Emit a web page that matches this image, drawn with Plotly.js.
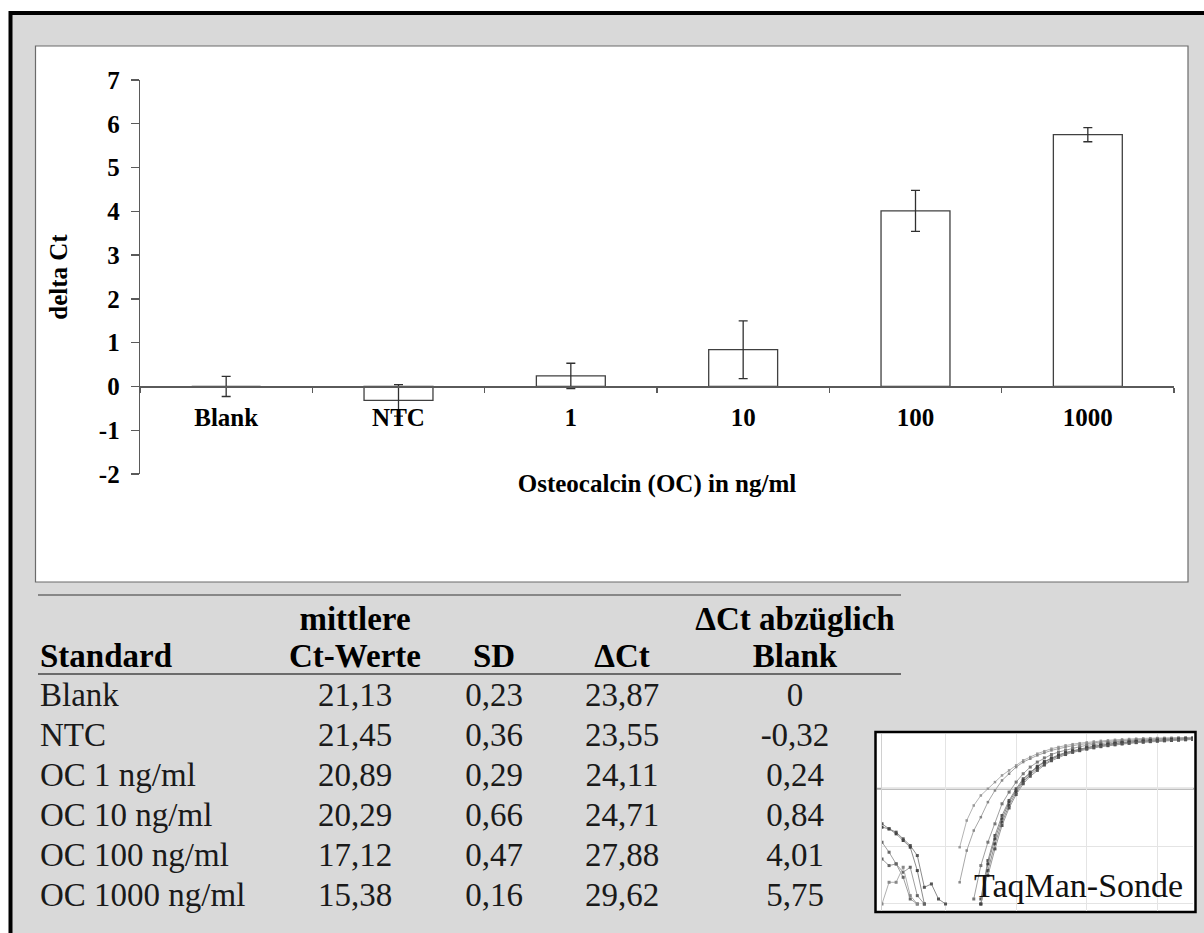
<!DOCTYPE html>
<html><head><meta charset="utf-8">
<script src="https://cdn.plot.ly/plotly-3.0.1.min.js"></script>
<style>html,body{margin:0;padding:0;background:#fff;overflow:hidden}#chart{width:1204px;height:933px}</style>
</head><body><div id="chart"></div>
<script>
// ---------------- data ----------------
const categories = ['Blank', 'NTC', '1', '10', '100', '1000'];
const standards = ['Blank', 'NTC', 'OC 1 ng/ml', 'OC 10 ng/ml', 'OC 100 ng/ml', 'OC 1000 ng/ml'];
const meanCt = [21.13, 21.45, 20.89, 20.29, 17.12, 15.38];
const sd = [0.23, 0.36, 0.29, 0.66, 0.47, 0.16];
const deltaCt = [23.87, 23.55, 24.11, 24.71, 27.88, 29.62];
const deltaCtMinusBlank = [0, -0.32, 0.24, 0.84, 4.01, 5.75];
const yTicks = [-2, -1, 0, 1, 2, 3, 4, 5, 6, 7];
const headerLine1 = ['', 'mittlere', '', '', '\u0394Ct abz\u00fcglich'];
const headerLine2 = ['Standard', 'Ct-Werte', 'SD', '\u0394Ct', 'Blank'];
const insetLabel = 'TaqMan-Sonde';

// inset: amplification curves (normalised fluorescence per cycle)
const ampStartA = 12;
const ampA = [0.34,0.50,0.59,0.65,0.69,0.73,0.77,0.80,0.83,0.86,0.88,0.90,0.915,0.93,0.94,0.95,0.957,0.963,0.968,0.973,0.977,0.98,0.983,0.986,0.988,0.99,0.992,0.993,0.994,0.995,0.996,0.997,0.998,0.998];
const ampStartB = 12;
const ampB = [0.13,0.32,0.44,0.52,0.61,0.68,0.74,0.78,0.82,0.85,0.87,0.89,0.905,0.92,0.93,0.94,0.948,0.955,0.961,0.966,0.97,0.974,0.977,0.98,0.983,0.985,0.987,0.989,0.99,0.991,0.992,0.993,0.994,0.995];
const ampStartC1 = 14;
const ampC1 = [0.03,0.23,0.37,0.48,0.60,0.67,0.73,0.78,0.82,0.85,0.875,0.895,0.91,0.922,0.933,0.942,0.95,0.956,0.962,0.967,0.971,0.975,0.978,0.981,0.984,0.986,0.988,0.99,0.991,0.992,0.993,0.994];
const ampStartC2 = 15;
const ampC2 = [0.03,0.26,0.41,0.53,0.62,0.69,0.75,0.79,0.825,0.853,0.875,0.893,0.907,0.918,0.928,0.937,0.945,0.952,0.958,0.963,0.967,0.971,0.974,0.977,0.98,0.982,0.984,0.986,0.988,0.99,0.991];
const ampStartC3 = 15;
const ampC3 = [0.0,0.24,0.39,0.51,0.61,0.68,0.74,0.785,0.82,0.85,0.872,0.89,0.904,0.916,0.926,0.935,0.943,0.95,0.956,0.961,0.965,0.969,0.972,0.975,0.978,0.98,0.982,0.984,0.986,0.988,0.99];
const ampStartC4 = 15;
const ampC4 = [0.0,0.20,0.36,0.49,0.59,0.67,0.73,0.775,0.81,0.84,0.865,0.885,0.9,0.912,0.922,0.931,0.939,0.946,0.952,0.957,0.961,0.965,0.968,0.971,0.974,0.977,0.979,0.981,0.983,0.985,0.987];
const ampStartC5 = 16;
const ampC5 = [0.17,0.33,0.47,0.575,0.655,0.72,0.765,0.80,0.832,0.858,0.878,0.895,0.908,0.918,0.927,0.935,0.942,0.948,0.953,0.958,0.962,0.966,0.969,0.972,0.975,0.977,0.979,0.981,0.983,0.985];
const baseL1 = [0.48,0.45,0.43,0.39,0.35,0.29,0.10,0.12,0.03,0.0];
const baseL2 = [0.46,0.45,0.42,0.38,0.34,0.20,0.0];
const baseL3 = [0.37,0.31,0.24,0.19,0.22,0.05,0.0];
const baseL4 = [0.27,0.23,0.24,0.16,0.03,0.0];
const baseL5 = [0.0,0.13,0.13,0.22,0.05,0.0];
const threshold = 0.69;

// ---------------- layout helpers ----------------
const W = 1204, H = 933;
const px = v => v / W;
const py = v => 1 - v / H;
const fmt = v => v === 0 ? '0' : v.toFixed(2).replace('.', ',');
const SERIF = 'Liberation Serif, Times New Roman, serif';
const AX = '#5a5a5a';

// ---------------- bar chart ----------------
const bar = {
  type: 'bar', x: categories, y: deltaCtMinusBlank, xaxis: 'x', yaxis: 'y',
  width: 0.4,
  marker: {color: '#ffffff', line: {color: '#404040', width: 1.3}},
  error_y: {type: 'data', array: sd, visible: true, color: '#303030', thickness: 1.3, width: 4.5},
  hoverinfo: 'skip'
};

// ---------------- table as text marks on a pixel overlay axis ----------------
const TFS = 33;
const colX = [40, 355, 494, 622, 795];
const colPos = c => c === 0 ? 'middle right' : 'middle center';
const headerBase = [630, 667];
const rowBase0 = 706, rowStep = 40;

const hx = [], hy = [], ht = [], hp = [];
[headerLine1, headerLine2].forEach((line, r) => {
  line.forEach((t, c) => {
    if (!t) return;
    hx.push(colX[c]); hy.push(headerBase[r] - 0.25 * TFS); ht.push(t); hp.push(colPos(c));
  });
});
const headerTrace = {
  type: 'scatter', mode: 'text', x: hx, y: hy, text: ht, textposition: hp,
  textfont: {family: SERIF, size: TFS, color: '#000', weight: 'bold'},
  xaxis: 'x3', yaxis: 'y3', hoverinfo: 'skip', cliponaxis: false
};

const bx = [], by = [], bt = [], bp = [];
standards.forEach((s, r) => {
  const cells = [s, fmt(meanCt[r]), fmt(sd[r]), fmt(deltaCt[r]), fmt(deltaCtMinusBlank[r])];
  cells.forEach((t, c) => {
    bx.push(colX[c]); by.push(rowBase0 + r * rowStep - 0.25 * TFS); bt.push(t); bp.push(colPos(c));
  });
});
const bodyTrace = {
  type: 'scatter', mode: 'text', x: bx, y: by, text: bt, textposition: bp,
  textfont: {family: SERIF, size: TFS, color: '#1a1a1a'},
  xaxis: 'x3', yaxis: 'y3', hoverinfo: 'skip', cliponaxis: false
};

// ---------------- inset curves ----------------
function curve(values, start, lineColor, markerColor, msize) {
  return {
    type: 'scatter', mode: 'lines+markers',
    x: values.map((_, i) => start + i), y: values,
    xaxis: 'x4', yaxis: 'y4', hoverinfo: 'skip',
    line: {color: lineColor, width: 1},
    marker: {color: markerColor, size: msize, symbol: 'square'}
  };
}
const insetTraces = [
  curve(baseL1, 1, '#8c8c8c', '#555', 3),
  curve(baseL2, 1, '#8c8c8c', '#444', 3),
  curve(baseL3, 1, '#a0a0a0', '#666', 3),
  curve(baseL4, 1, '#a0a0a0', '#666', 3),
  curve(baseL5, 1, '#b0b0b0', '#888', 3),
  curve(ampA, ampStartA, '#b4b4b4', '#999', 2.5),
  curve(ampB, ampStartB, '#a8a8a8', '#888', 2.5),
  curve(ampC1, ampStartC1, '#a0a0a0', '#777', 3),
  curve(ampC2, ampStartC2, '#909090', '#555', 3),
  curve(ampC3, ampStartC3, '#8a8a8a', '#444', 3),
  curve(ampC4, ampStartC4, '#909090', '#444', 3),
  curve(ampC5, ampStartC5, '#999999', '#555', 3)
];

// ---------------- layout ----------------
const tickFont = {family: SERIF, size: 25, color: '#000', weight: 'bold'};
const layout = {
  width: W, height: H,
  margin: {l: 0, r: 0, t: 0, b: 0, pad: 0},
  paper_bgcolor: '#ffffff', plot_bgcolor: 'rgba(0,0,0,0)',
  font: {family: SERIF, color: '#000'},
  showlegend: false, hovermode: false,
  xaxis: {
    type: 'category', domain: [px(140), px(1174)], anchor: 'free', position: py(386.4),
    showline: true, linecolor: AX, linewidth: 1.3,
    ticks: 'outside', ticklen: 5, tickwidth: 1.3, tickcolor: AX, tickson: 'boundaries',
    tickfont: tickFont, ticklabelstandoff: 8,
    showgrid: false, zeroline: false, fixedrange: true,
    title: {text: 'Osteocalcin (OC) in ng/ml', font: {family: SERIF, size: 25, weight: 'bold', color: '#000'}, standoff: 44}
  },
  yaxis: {
    domain: [py(474), py(80)], range: [-2, 7], anchor: 'x',
    tickvals: yTicks, ticktext: yTicks.map(String),
    showline: true, linecolor: AX, linewidth: 1.3,
    ticks: 'outside', ticklen: 8, tickwidth: 1.3, tickcolor: AX,
    tickfont: tickFont, ticklabelstandoff: 6,
    showgrid: false, zeroline: false, fixedrange: true,
    title: {text: 'delta Ct', font: {family: SERIF, size: 25, weight: 'bold', color: '#000'}, standoff: 24}
  },
  xaxis3: {domain: [0, 1], range: [0, W], anchor: 'y3', visible: false, fixedrange: true},
  yaxis3: {domain: [0, 1], range: [H, 0], anchor: 'x3', visible: false, fixedrange: true},
  xaxis4: {
    domain: [px(882), px(1193)], range: [1.0, 45.05], anchor: 'y4',
    showgrid: true, gridcolor: '#e4e4e4', gridwidth: 1, dtick: 10, tick0: 0,
    showticklabels: false, zeroline: false, showline: false, ticks: '', fixedrange: true
  },
  yaxis4: {
    domain: [py(911), py(734)], range: [-0.042, 1.018], anchor: 'x4',
    showgrid: true, gridcolor: '#e4e4e4', gridwidth: 1, dtick: 0.345, tick0: 0,
    showticklabels: false, zeroline: false, showline: true, linecolor: '#d0d0d0', linewidth: 1,
    ticks: '', fixedrange: true
  },
  shapes: [
    // grey panel with thick black frame
    {type: 'rect', xref: 'paper', yref: 'paper', x0: px(10.5), x1: 1.03, y0: py(13), y1: -0.03,
     fillcolor: '#d9d9d9', line: {color: '#000', width: 4}, layer: 'below'},
    // white chart box
    {type: 'rect', xref: 'paper', yref: 'paper', x0: px(35.5), x1: px(1188), y0: py(46), y1: py(582),
     fillcolor: '#ffffff', line: {color: '#6b6b6b', width: 1.2}, layer: 'below'},
    // table rules
    {type: 'line', xref: 'paper', yref: 'paper', x0: px(38), x1: px(901), y0: py(595), y1: py(595),
     line: {color: '#6b6b6b', width: 1.5}, layer: 'below'},
    {type: 'line', xref: 'paper', yref: 'paper', x0: px(38), x1: px(901), y0: py(674), y1: py(674),
     line: {color: '#6b6b6b', width: 2.2}, layer: 'below'},
    // inset box
    {type: 'rect', xref: 'paper', yref: 'paper', x0: px(875.5), x1: px(1195.5), y0: py(732), y1: py(912),
     fillcolor: '#ffffff', line: {color: '#000', width: 2.5}, layer: 'below'},
    // threshold line in inset
    {type: 'line', xref: 'paper', yref: 'y4', x0: px(877), x1: px(1194), y0: threshold, y1: threshold,
     line: {color: '#a8a8a8', width: 2}, layer: 'below'}
  ],
  annotations: [
    {xref: 'paper', yref: 'paper', x: px(1078), y: py(885.5), xanchor: 'center', yanchor: 'middle',
     text: insetLabel, showarrow: false, font: {family: SERIF, size: 34, color: '#111'}}
  ]
};

Plotly.newPlot('chart', [bar, headerTrace, bodyTrace].concat(insetTraces), layout,
  {displayModeBar: false, staticPlot: true});
</script>
</body></html>
